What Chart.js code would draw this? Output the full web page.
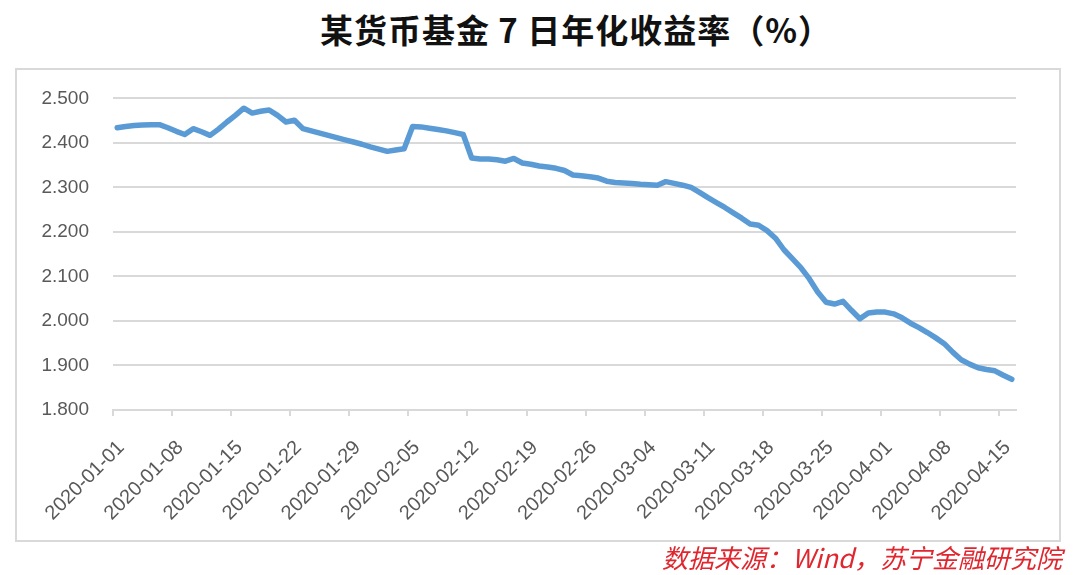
<!DOCTYPE html>
<html>
<head>
<meta charset="utf-8">
<script src="https://cdn.jsdelivr.net/npm/chart.js@4.4.1/dist/chart.umd.min.js"></script>
<style>
  html, body { margin: 0; padding: 0; background: #fff; }
  body { width: 1080px; height: 575px; position: relative; overflow: hidden; }
  #title {
    position: absolute; left: 576px; top: 7px; transform: translateX(-50%);
    font-family: "Noto Sans CJK SC", "Noto Sans", sans-serif; font-weight: 700;
    font-size: 33px; line-height: 44px; letter-spacing: 1px; color: #111; white-space: nowrap;
  }
  #box {
    position: absolute; left: 15px; top: 68px; width: 1046px; height: 474px;
    box-sizing: border-box; border: 2px solid #d9d9d9; background: #fff;
  }
  #source {
    position: absolute; right: 18px; top: 539px;
    font-family: "Noto Sans CJK SC", "Noto Sans", sans-serif; font-style: italic;
    font-size: 26px; line-height: 36px; color: #e0262e; white-space: nowrap;
  }
  canvas { display: block; margin-top: -7px; }
</style>
</head>
<body>
<div id="title">某货币基金 7 日年化收益率（%）</div>
<div id="box"><canvas id="c" width="1042" height="477"></canvas></div>
<div id="source">数据来源：Wind，苏宁金融研究院</div>
<script>
// Categories: daily dates 2020-01-01 .. 2020-04-16
const dayCount = 107;
const categories = [];
(function () {
  const d = new Date(Date.UTC(2020, 0, 1));
  for (let i = 0; i < dayCount; i++) {
    const t = new Date(d.getTime() + i * 86400000);
    categories.push(t.toISOString().slice(0, 10));
  }
})();

// 7-day annualized yield (%)
const yieldValues = [
  2.434, 2.437, 2.439, 2.440, 2.441, 2.441, 2.434, 2.426, 2.419, 2.432,
  2.425, 2.417, 2.431, 2.447, 2.462, 2.478, 2.467, 2.471, 2.474, 2.462,
  2.447, 2.451, 2.432, 2.427, 2.422, 2.417, 2.412, 2.407, 2.402, 2.397,
  2.391, 2.386, 2.381, 2.384, 2.387, 2.437, 2.436, 2.433, 2.430, 2.427,
  2.423, 2.419, 2.366, 2.364, 2.364, 2.362, 2.359, 2.365, 2.355, 2.352,
  2.348, 2.346, 2.343, 2.338, 2.328, 2.326, 2.324, 2.321, 2.314, 2.311,
  2.310, 2.309, 2.307, 2.306, 2.305, 2.313, 2.309, 2.305, 2.300, 2.289,
  2.277, 2.266, 2.255, 2.243, 2.231, 2.218, 2.215, 2.203, 2.186, 2.160,
  2.140, 2.120, 2.095, 2.065, 2.042, 2.038, 2.044, 2.024, 2.005, 2.018,
  2.020, 2.020, 2.016, 2.007, 1.995, 1.985, 1.974, 1.962, 1.949, 1.930,
  1.913, 1.903, 1.895, 1.891, 1.888, 1.878, 1.869
];

// Axis settings
const yTicks = [1.8, 1.9, 2.0, 2.1, 2.2, 2.3, 2.4, 2.5];
const xLabelEvery = 7;

const gridColor = '#d9d9d9';
const tickColor = '#595959';

new Chart(document.getElementById('c'), {
  type: 'line',
  data: {
    labels: categories,
    datasets: [{
      data: yieldValues,
      borderColor: '#5b9bd5',
      borderWidth: 5.5,
      pointRadius: 0,
      tension: 0,
      fill: false,
      borderJoinStyle: 'round',
      borderCapStyle: 'round'
    }]
  },
  options: {
    responsive: false,
    animation: false,
    layout: { padding: { top: 20, right: 43, bottom: 0, left: 0 } },
    plugins: { legend: { display: false }, tooltip: { enabled: false }, title: { display: false } },
    scales: {
      x: {
        type: 'category',
        offset: true,
        afterFit: (s) => { s.height = 130; },
        border: { display: true, color: gridColor, width: 2 },
        grid: {
          offset: true,
          drawOnChartArea: false,
          drawTicks: true,
          tickLength: 6,
          lineWidth: 2,
          tickColor: (ctx) => (ctx.index % xLabelEvery === 0 && ctx.index < dayCount) ? gridColor : 'rgba(0,0,0,0)',
          color: 'rgba(0,0,0,0)'
        },
        ticks: {
          autoSkip: false,
          minRotation: 45,
          maxRotation: 45,
          padding: 20,
          labelOffset: 4,
          color: tickColor,
          font: { family: 'Liberation Sans, Arial, sans-serif', size: 20 },
          callback: function (val, idx) { return idx % xLabelEvery === 0 ? categories[idx] : ''; }
        }
      },
      y: {
        min: yTicks[0],
        max: yTicks[yTicks.length - 1],
        afterFit: (s) => { s.width = 96; },
        afterBuildTicks: (s) => { s.ticks = yTicks.map(v => ({ value: v })); },
        border: { display: false },
        grid: { color: gridColor, lineWidth: 2, drawTicks: false },
        ticks: {
          padding: 24,
          color: tickColor,
          font: { family: 'Liberation Sans, Arial, sans-serif', size: 19 },
          callback: (v) => Number(v).toFixed(3)
        }
      }
    }
  }
});
</script>
</body>
</html>
